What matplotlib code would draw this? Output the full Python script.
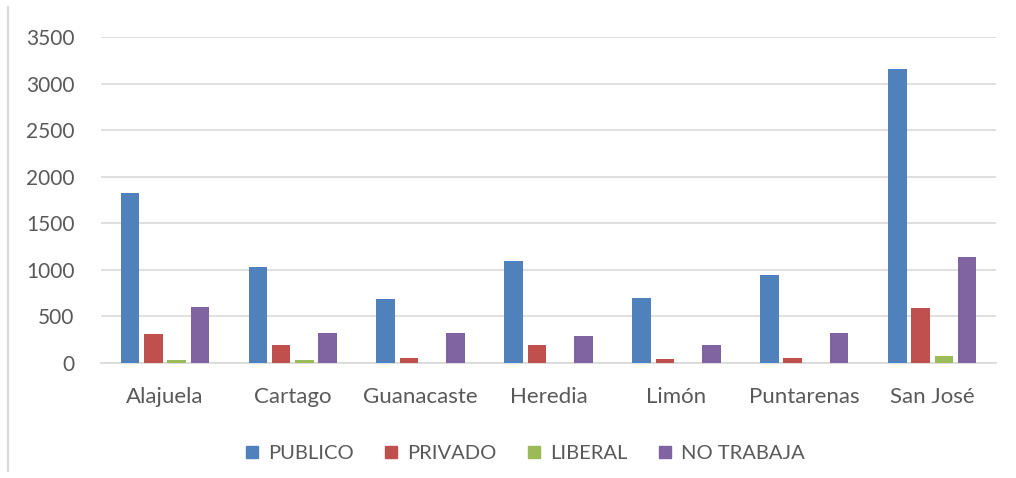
import numpy as np
import matplotlib
matplotlib.use("Agg")
from matplotlib import pyplot as plt
from matplotlib.lines import Line2D

provincias = ["Alajuela", "Cartago", "Guanacaste", "Heredia", "Limón", "Puntarenas", "San José"]
series = ["PUBLICO", "PRIVADO", "LIBERAL", "NO TRABAJA"]
publico = [1824, 1030, 687, 1094, 697, 944, 3155]
privado = [311, 193, 55, 193, 45, 55, 588]
liberal = [30, 30, 4, 3, 3, 2, 78]
no_trabaja = [600, 322, 322, 290, 193, 322, 1140]
colores = ["#4F81BD", "#C0504D", "#9BBB59", "#8064A2"]

plt.rcParams['font.family'] = ['Lato', 'DejaVu Sans']
text_color = "#595959"

fig = plt.figure(figsize=(10.16, 4.78), dpi=100)
ax = fig.add_axes([0.0994, 0.2406, 0.8810, 0.6820])

x = np.arange(len(provincias))
pitch = 0.182
width = 0.145
valores = [publico, privado, liberal, no_trabaja]
for k, (nombre, vals, c) in enumerate(zip(series, valores, colores)):
    ax.bar(x + (k - 1.5) * pitch, vals, width, color=c, label=nombre, zorder=3)

ax.set_xlim(-0.5, len(provincias) - 0.5)
ax.set_ylim(0, 3500)
ax.set_yticks(np.arange(0, 3501, 500))
ax.set_xticks(x)
ax.set_xticklabels(provincias)
ax.grid(axis='y', color="#d9d9d9", linewidth=1.2, zorder=0)
for s in ["top", "right", "left"]:
    ax.spines[s].set_visible(False)
ax.spines["bottom"].set_color("#d9d9d9")
ax.spines["bottom"].set_linewidth(1.2)
ax.tick_params(axis='y', length=0, labelsize=15, colors=text_color, pad=19)
ax.tick_params(axis='x', length=0, labelsize=16, colors=text_color, pad=17)

handles = [Line2D([], [], marker='s', linestyle='none', markersize=9, color=c) for c in colores]
leg = fig.legend(handles, series, loc='center', bbox_to_anchor=(0.516, 0.052), ncol=4,
                 frameon=False, fontsize=14.5, handlelength=0.8, handletextpad=0.4,
                 columnspacing=1.45)
for t in leg.get_texts():
    t.set_color(text_color)

fig.add_artist(Line2D([0.008, 0.008], [0.015, 0.985], color="#d9d9d9", linewidth=1.5))

fig.savefig("out.png", dpi=100)
